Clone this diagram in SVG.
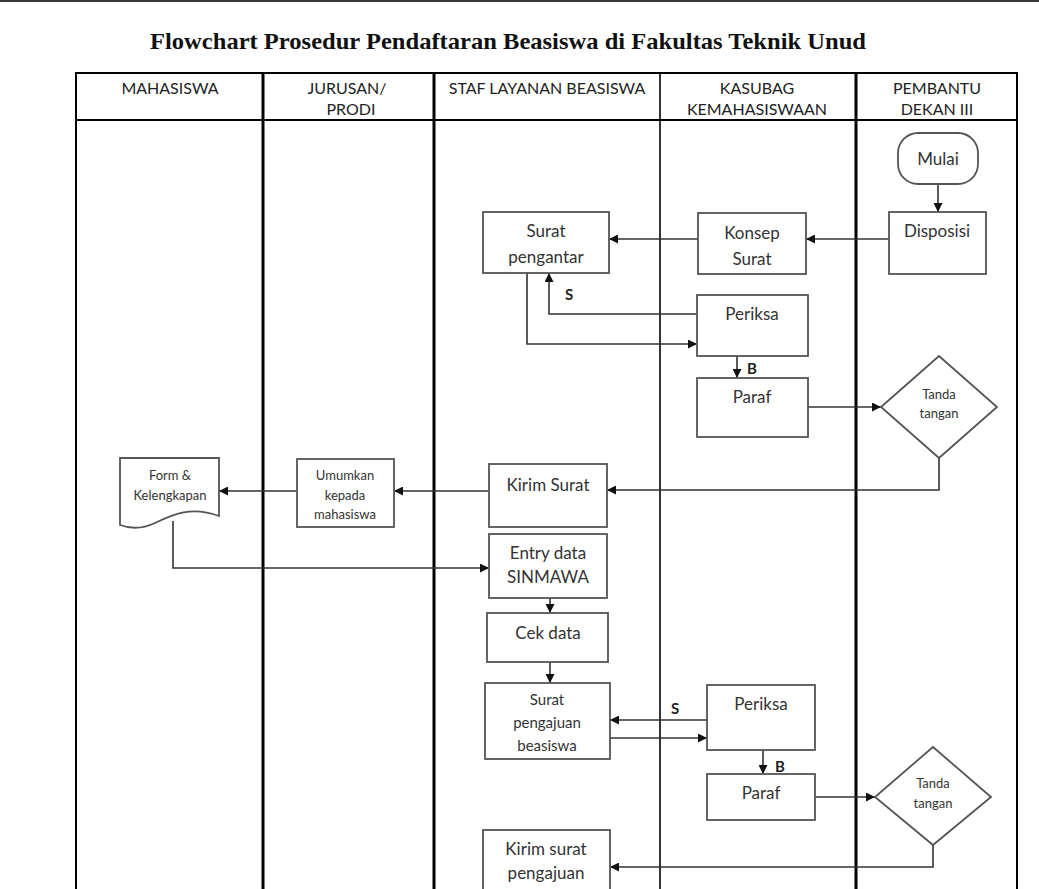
<svg xmlns="http://www.w3.org/2000/svg" width="1039" height="889" viewBox="0 0 1039 889">
<defs>
<marker id="arr" viewBox="0 0 10 10" refX="10" refY="5" markerWidth="9" markerHeight="9" markerUnits="userSpaceOnUse" orient="auto">
<path d="M0,0 L10,5 L0,10 z" fill="#111"/>
</marker>
</defs>
<style>
.box{fill:#fff;stroke:#555;stroke-width:1.8}
.t{font-family:Lato,"Open Sans",sans-serif;font-size:17px;fill:#333;text-anchor:middle}
.m{font-family:Lato,"Open Sans",sans-serif;font-size:15px;fill:#333;text-anchor:middle}
.s{font-family:Lato,"Open Sans",sans-serif;font-size:13px;fill:#333;text-anchor:middle}
.h{font-family:Lato,"Open Sans",sans-serif;font-size:16px;fill:#222;text-anchor:middle}
.lbl{font-family:Lato,"Open Sans",sans-serif;font-size:15px;fill:#222;font-weight:bold;text-anchor:middle}
.c{fill:none;stroke:#333;stroke-width:1.6;marker-end:url(#arr)}
.lane{stroke:#000;fill:none}
</style>
<rect x="0" y="0" width="1039" height="2" fill="#3a3a3a"/>
<text x="508" y="49" font-family="Liberation Serif,serif" font-weight="bold" font-size="23" fill="#111" text-anchor="middle" textLength="716" lengthAdjust="spacingAndGlyphs">Flowchart Prosedur Pendaftaran Beasiswa di Fakultas Teknik Unud</text>
<g id="lanes">
<rect class="lane" x="76" y="73" width="941" height="830" stroke-width="2"/>
<line class="lane" x1="76" y1="120" x2="1017" y2="120" stroke-width="2"/>
<line class="lane" x1="263" y1="73" x2="263" y2="889" stroke-width="3"/>
<line class="lane" x1="434" y1="73" x2="434" y2="889" stroke-width="3"/>
<line class="lane" x1="660" y1="73" x2="660" y2="889" stroke-width="1.6"/>
<line class="lane" x1="856" y1="73" x2="856" y2="889" stroke-width="3"/>
<text class="h" x="170" y="94">MAHASISWA</text>
<text class="h" x="347" y="94">JURUSAN/</text>
<text class="h" x="351" y="115">PRODI</text>
<text class="h" x="547" y="94">STAF LAYANAN BEASISWA</text>
<text class="h" x="757" y="94">KASUBAG</text>
<text class="h" x="757" y="115">KEMAHASISWAAN</text>
<text class="h" x="937" y="94">PEMBANTU</text>
<text class="h" x="937" y="115">DEKAN III</text>
</g>
<g id="connectors">
<path class="c" d="M938,184 V212"/>
<path class="c" d="M889,239 H806"/>
<path class="c" d="M698,239 H609"/>
<path class="c" d="M697,314 H549 V273"/>
<path class="c" d="M527,273 V344 H697"/>
<path class="c" d="M737,356 V378"/>
<path class="c" d="M808,407 H881"/>
<path class="c" d="M939,458 V490 H607"/>
<path class="c" d="M489,491 H394"/>
<path class="c" d="M297,491 H219"/>
<path class="c" d="M173,521 V568 H489"/>
<path class="c" d="M550,598 V613"/>
<path class="c" d="M550,662 V683"/>
<path class="c" d="M707,720 H610"/>
<path class="c" d="M610,738 H707"/>
<path class="c" d="M763,750 V774"/>
<path class="c" d="M815,797 H875"/>
<path class="c" d="M933,845 V867 H610"/>
<text class="lbl" x="569" y="300">S</text>
<text class="lbl" x="752" y="374">B</text>
<text class="lbl" x="675" y="714">S</text>
<text class="lbl" x="780" y="772">B</text>
</g>
<g id="mulai">
<rect class="box" x="898" y="133" width="80" height="51" rx="20"/>
<text class="t" x="938" y="165">Mulai</text>
</g>
<g id="disposisi">
<rect class="box" x="889" y="212" width="97" height="62"/>
<text class="t" x="937" y="237">Disposisi</text>
</g>
<g id="konsep-surat">
<rect class="box" x="698" y="213" width="108" height="61"/>
<text class="t" x="752" y="239">Konsep</text>
<text class="t" x="752" y="265">Surat</text>
</g>
<g id="surat-pengantar">
<rect class="box" x="483" y="212" width="126" height="61"/>
<text class="t" x="546" y="237">Surat</text>
<text class="t" x="546" y="263">pengantar</text>
</g>
<g id="periksa-1">
<rect class="box" x="697" y="295" width="111" height="61"/>
<text class="t" x="752" y="320">Periksa</text>
</g>
<g id="paraf-1">
<rect class="box" x="697" y="378" width="111" height="59"/>
<text class="t" x="752" y="403">Paraf</text>
</g>
<g id="tanda-tangan-1">
<polygon class="box" points="939,356 997,407 939,458 881,407"/>
<text class="s" x="939" y="399">Tanda</text>
<text class="s" x="939" y="418">tangan</text>
</g>
<g id="kirim-surat">
<rect class="box" x="489" y="464" width="118" height="63"/>
<text class="t" x="548" y="491">Kirim Surat</text>
</g>
<g id="umumkan">
<rect class="box" x="297" y="459" width="97" height="68"/>
<text class="s" x="345" y="480">Umumkan</text>
<text class="s" x="345" y="500">kepada</text>
<text class="s" x="345" y="519">mahasiswa</text>
</g>
<g id="form-kelengkapan">
<path class="box" d="M120,458 H219 V516 C190,505 170,516 155,523 C140,530 128,528 120,525 Z"/>
<text class="s" x="170" y="480">Form &amp;</text>
<text class="s" x="170" y="500">Kelengkapan</text>
</g>
<g id="entry-data">
<rect class="box" x="489" y="534" width="118" height="64"/>
<text class="t" x="548" y="559">Entry data</text>
<text class="t" x="548" y="583">SINMAWA</text>
</g>
<g id="cek-data">
<rect class="box" x="487" y="613" width="121" height="49"/>
<text class="t" x="548" y="639">Cek data</text>
</g>
<g id="surat-pengajuan">
<rect class="box" x="485" y="683" width="125" height="76"/>
<text class="m" x="547" y="705">Surat</text>
<text class="m" x="547" y="728">pengajuan</text>
<text class="m" x="547" y="751">beasiswa</text>
</g>
<g id="periksa-2">
<rect class="box" x="707" y="685" width="108" height="65"/>
<text class="t" x="761" y="710">Periksa</text>
</g>
<g id="paraf-2">
<rect class="box" x="707" y="774" width="108" height="46"/>
<text class="t" x="761" y="799">Paraf</text>
</g>
<g id="tanda-tangan-2">
<polygon class="box" points="933,747 991,797 933,845 875,797"/>
<text class="s" x="933" y="788">Tanda</text>
<text class="s" x="933" y="808">tangan</text>
</g>
<g id="kirim-surat-pengajuan">
<rect class="box" x="483" y="830" width="127" height="75"/>
<text class="t" x="546" y="855">Kirim surat</text>
<text class="t" x="546" y="879">pengajuan</text>
</g>
</svg>
